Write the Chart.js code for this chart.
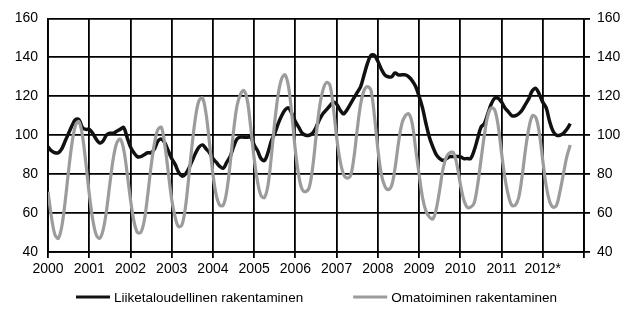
<!DOCTYPE html>
<html lang="fi">
<head>
<meta charset="UTF-8">
<title>Rakentaminen</title>
<script src="https://cdn.jsdelivr.net/npm/chart.js"></script>
<style>
  body { margin: 0; background: #fff; }
  #wrap { width: 633px; height: 314px; }
</style>
</head>
<body>
<div id="wrap"><canvas id="chart" width="633" height="314"></canvas></div>
<script>
// year labels on the x axis (one tick every 12 months)
const years = ['2000', '2001', '2002', '2003', '2004', '2005', '2006', '2007', '2008', '2009', '2010', '2011', '2012*'];
const seriesNames = ['Liiketaloudellinen rakentaminen', 'Omatoiminen rakentaminen'];

// monthly index values, Jan 2000 - Sep 2012
const liiketaloudellinen = [
  94, 92, 91, 91, 93, 97, 101, 105, 108, 108, 104, 103,
  103, 101, 98, 96, 97, 100, 101, 101, 102, 103, 104, 99,
  94, 91, 89, 89, 90, 91, 91, 93, 97, 98, 96, 92,
  88, 85, 81, 79, 80, 83, 87, 91, 94, 95, 93, 91,
  88, 86, 84, 83, 86, 89, 94, 98, 99, 99, 99, 99,
  95, 92, 88, 87, 91, 97, 101, 106, 110, 113, 114, 111,
  107, 104, 101, 100, 100, 101, 104, 108, 111, 113, 115, 117,
  116, 113, 111, 113, 116, 119, 122, 125, 131, 137, 141, 141,
  138, 134, 131, 130, 130, 132, 131, 131, 131, 130, 128, 125,
  120, 114, 106, 99, 94, 90, 88, 87, 88, 89, 89, 89,
  89, 88, 88, 88, 92, 98, 104, 106, 111, 116, 119, 119,
  117, 114, 112, 110, 110, 111, 113, 116, 119, 123, 124, 121,
  117, 114, 107, 102, 100, 100, 101, 103, 106
];
const omatoiminen = [
  71, 58, 49, 47, 53, 66, 82, 96, 105, 107, 100, 86,
  70, 57, 49, 47, 51, 61, 75, 88, 96, 98, 93, 81,
  67, 56, 50, 50, 56, 69, 84, 96, 103, 104, 95, 81,
  67, 58, 53, 54, 63, 79, 96, 110, 118, 119, 111, 96,
  80, 69, 64, 64, 71, 85, 102, 115, 121, 123, 118, 104,
  88, 76, 69, 68, 74, 89, 107, 121, 129, 131, 125, 110,
  92, 79, 72, 71, 73, 83, 99, 114, 123, 127, 126, 115,
  99, 87, 80, 78, 79, 88, 103, 116, 123, 125, 123, 110,
  93, 80, 74, 72, 74, 83, 96, 106, 110, 111, 106, 93,
  80, 68, 61, 58, 57, 62, 72, 83, 89, 91, 91, 85,
  75, 67, 63, 63, 65, 74, 87, 100, 110, 114, 113, 105,
  91, 78, 69, 64, 64, 68, 79, 93, 104, 110, 109, 101,
  87, 74, 66, 63, 64, 71, 80, 89, 95
];

const FONT = '"Liberation Sans", Arial, sans-serif';
const colors = ['#111111', '#9c9c9c'];

// simple legend under the axis, lines + text, centered
const bottomLegend = {
  id: 'bottomLegend',
  afterDraw(chart) {
    const ctx = chart.ctx;
    const lineW = 34, gap = 4, spacing = 50, y = 297;
    ctx.save();
    ctx.font = '13.5px ' + FONT;
    const widths = seriesNames.map(n => ctx.measureText(n).width);
    const total = widths.reduce((a, w) => a + lineW + gap + w, 0) + spacing * (seriesNames.length - 1);
    let x = (chart.width - total) / 2;
    seriesNames.forEach((name, i) => {
      ctx.strokeStyle = colors[i];
      ctx.lineWidth = 3;
      ctx.beginPath();
      ctx.moveTo(x, y);
      ctx.lineTo(x + lineW, y);
      ctx.stroke();
      ctx.fillStyle = '#000';
      ctx.textBaseline = 'middle';
      ctx.fillText(name, x + lineW + gap, y + 1);
      x += lineW + gap + widths[i] + spacing;
    });
    ctx.restore();
  }
};

const toPoints = arr => arr.map((v, i) => ({ x: i, y: v }));

const ctx = document.getElementById('chart').getContext('2d');
new Chart(ctx, {
  type: 'line',
  data: {
    datasets: [
      {
        label: seriesNames[1],
        data: toPoints(omatoiminen),
        borderColor: colors[1],
        borderWidth: 3.2,
        pointRadius: 0,
        tension: 0.35,
        yAxisID: 'y'
      },
      {
        label: seriesNames[0],
        data: toPoints(liiketaloudellinen),
        borderColor: colors[0],
        borderWidth: 3.5,
        pointRadius: 0,
        tension: 0.35,
        yAxisID: 'y'
      }
    ]
  },
  options: {
    responsive: false,
    animation: false,
    layout: { padding: { top: 18, bottom: 0, left: 0, right: 0 } },
    plugins: { legend: { display: false }, tooltip: { enabled: false } },
    scales: {
      x: {
        type: 'linear',
        min: 0,
        max: years.length * 12,
        afterFit: s => { s.height = 62; },
        ticks: {
          stepSize: 12,
          autoSkip: false,
          maxRotation: 0,
          padding: 3,
          color: '#000',
          font: { family: FONT, size: 14 },
          callback: v => years[v / 12] || ''
        },
        grid: { color: '#000', lineWidth: 1.8, tickLength: 6 },
        border: { color: '#000', width: 1.8 }
      },
      y: {
        position: 'left',
        min: 40,
        max: 160,
        afterFit: s => { s.width = 48; },
        ticks: { stepSize: 20, padding: 10, color: '#000', font: { family: FONT, size: 14 } },
        grid: { color: '#000', lineWidth: 1.8, drawTicks: false },
        border: { color: '#000', width: 1.8 }
      },
      y2: {
        position: 'right',
        min: 40,
        max: 160,
        afterFit: s => { s.width = 49; },
        ticks: { stepSize: 20, padding: 7, color: '#000', font: { family: FONT, size: 14 } },
        grid: { drawOnChartArea: false, color: '#000', lineWidth: 1.8, tickLength: 6 },
        border: { color: '#000', width: 1.8 }
      }
    }
  },
  plugins: [bottomLegend]
});
</script>
</body>
</html>
